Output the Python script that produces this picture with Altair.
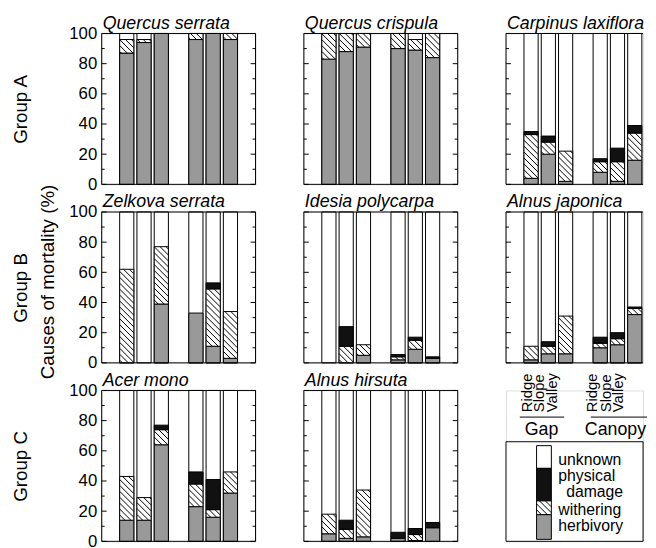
import math
import altair as alt
import pandas as pd

FONT = "Liberation Sans"

# ---------------- data ----------------
sites = ["Ridge", "Slope", "Valley", "Ridge", "Slope", "Valley"]
habitats = ["Gap", "Gap", "Gap", "Canopy", "Canopy", "Canopy"]
bar_slots = [1, 2, 3, 5, 6, 7]

species = ["Quercus serrata", "Quercus crispula", "Carpinus laxiflora",
           "Zelkova serrata", "Idesia polycarpa", "Alnus japonica",
           "Acer mono", "Alnus hirsuta"]
groups = ["Group A", "Group B", "Group C"]
y_title = "Causes of mortality  (%)"

herbivory = {
    "Quercus serrata":    [87, 94, 100, 96, 100, 96],
    "Quercus crispula":   [83, 88, 91, 90, 89, 84],
    "Carpinus laxiflora": [4, 20, 2, 8, 2, 16],
    "Zelkova serrata":    [0, 0, 39, 33, 11, 3],
    "Idesia polycarpa":   [0, 0, 5, 2, 9, 3],
    "Alnus japonica":     [2, 6, 6, 10, 12, 32],
    "Acer mono":          [14, 14, 64, 23, 16, 32],
    "Alnus hirsuta":      [5, 2, 3, 2, 0.5, 9],
}
withering = {
    "Quercus serrata":    [9, 2, 0, 4, 0, 4],
    "Quercus crispula":   [17, 12, 9, 10, 7, 16],
    "Carpinus laxiflora": [29, 8, 20, 7, 13, 18],
    "Zelkova serrata":    [62, 0, 38, 0, 38, 31],
    "Idesia polycarpa":   [0, 11, 7, 2, 6, 0],
    "Alnus japonica":     [9, 5, 25, 3, 4, 4],
    "Acer mono":          [29, 15, 10, 15, 5, 14],
    "Alnus hirsuta":      [13, 6, 31, 0, 4, 0],
}
physical = {
    "Quercus serrata":    [0, 0, 0, 0, 0, 0],
    "Quercus crispula":   [0, 0, 0, 0, 0, 0],
    "Carpinus laxiflora": [2, 4, 0, 2, 9, 5],
    "Zelkova serrata":    [0, 0, 0, 0, 4, 0],
    "Idesia polycarpa":   [0, 13, 0, 1.5, 2, 1],
    "Alnus japonica":     [0, 3, 0, 4, 4, 1],
    "Acer mono":          [0, 0, 3, 8, 20, 0],
    "Alnus hirsuta":      [0, 6, 0, 4, 4, 3.5],
}

causes = ["unknown", "physical damage", "withering", "herbivory"]
cause_fill = ["white", "#111111", "white", "#999999"]
legend_labels = ["unknown", "physical", "damage", "withering", "herbivory"]

major_ticks = [0, 20, 40, 60, 80, 100]
minor_ticks = [10, 30, 50, 70, 90]

# ---------------- layout constants ----------------
W, H = 156, 153
W3 = 139                      # right column is cut by the page edge
XMIN, XMAX = -0.45, 8.45
HALF = 0.41
SX = W / (XMAX - XMIN)
STEP = 6.0

ys = alt.Scale(domain=[0, 100], nice=False)
cscale = alt.Scale(domain=causes, range=cause_fill)


def hatch_px(x0, x1, yt, yb, step=STEP):
    """diagonal '\\' hatch lines inside a pixel rectangle"""
    segs = []
    cmin, cmax = yt - x1, yb - x0
    k = math.ceil(cmin / step)
    while k * step < cmax:
        c = k * step
        xa = max(x0, yt - c)
        xb = min(x1, yb - c)
        if xb - xa > 0.4:
            segs.append((xa, xa + c, xb, xb + c))
        k += 1
    return segs


def to_px_x(d):
    return (d - XMIN) * SX


def to_px_y(v):
    return (100 - v) / 100 * H


def from_px_x(p):
    return p / SX + XMIN


def from_px_y(p):
    return 100 - p * 100 / H


one = pd.DataFrame({"a": [0]})


def panel(name, first_col, gtitle, width=W, open_right=False):
    xs = alt.Scale(domain=[XMIN, XMIN + width / SX], nice=False, zero=False)
    bg = pd.DataFrame({"x0": [s - HALF for s in bar_slots],
                       "x1": [s + HALF for s in bar_slots],
                       "y0": [0] * 6, "y1": [100] * 6})
    seg_rows, hatch_rows = [], []
    for i, s in enumerate(bar_slots):
        h, w, p = herbivory[name][i], withering[name][i], physical[name][i]
        base = 0
        for cause, val in [("herbivory", h), ("withering", w), ("physical damage", p)]:
            if val > 0:
                seg_rows.append({"x0": s - HALF, "x1": s + HALF, "y0": base,
                                 "y1": base + val, "cause": cause})
                if cause == "withering":
                    for (ax, ay, bx, by) in hatch_px(to_px_x(s - HALF), to_px_x(s + HALF),
                                                     to_px_y(base + val), to_px_y(base)):
                        hatch_rows.append({"hx0": from_px_x(ax), "hy0": from_px_y(ay),
                                           "hx1": from_px_x(bx), "hy1": from_px_y(by)})
            base += val
    segs = pd.DataFrame(seg_rows)
    hatch = pd.DataFrame(hatch_rows if hatch_rows else
                         [{"hx0": 0, "hy0": 0, "hx1": 0, "hy1": 0}])

    if first_col:
        yaxis = alt.Axis(values=major_ticks, ticks=False, domain=False, grid=False,
                         labelFontSize=17, labelFont=FONT, labelColor="black",
                         labelPadding=5, title=gtitle, titleX=-91, titleY=H / 2,
                         titleAngle=270, titleAlign="center", titleBaseline="top",
                         titleFontSize=19, titleFont=FONT, titleFontWeight="normal",
                         titleColor="black")
    else:
        yaxis = None

    def Y(field):
        return alt.Y(field, scale=ys, axis=yaxis)

    maj = pd.DataFrame({"v": major_ticks})
    mnr = pd.DataFrame({"v": minor_ticks})
    ticks = []
    for df, ln in [(maj, 5), (mnr, 3)]:
        ticks.append(alt.Chart(df).mark_rule(color="black", strokeWidth=1).encode(
            y=Y("v:Q"), x=alt.value(0), x2=alt.value(ln)))
        if not open_right:
            ticks.append(alt.Chart(df).mark_rule(color="black", strokeWidth=1).encode(
                y=Y("v:Q"), x=alt.value(width), x2=alt.value(width - ln)))

    if open_right:
        frame = [
            alt.Chart(one).mark_rule(color="black", strokeWidth=1).encode(
                x=alt.value(0), x2=alt.value(width), y=alt.value(0)),
            alt.Chart(one).mark_rule(color="black", strokeWidth=1).encode(
                x=alt.value(0), x2=alt.value(width), y=alt.value(H)),
            alt.Chart(one).mark_rule(color="black", strokeWidth=1).encode(
                x=alt.value(0), y=alt.value(0), y2=alt.value(H)),
        ]
    else:
        frame = [
            alt.Chart(one).mark_rect(fillOpacity=0, stroke="black", strokeWidth=1).encode(
                x=alt.value(0), x2=alt.value(width), y=alt.value(0), y2=alt.value(H)),
        ]

    layers = [
        alt.Chart(bg).mark_rect(fill="white", stroke="black", strokeWidth=1).encode(
            x=alt.X("x0:Q", scale=xs, axis=None), x2="x1",
            y=Y("y0:Q"), y2="y1"),
        alt.Chart(segs).mark_rect(stroke="black", strokeWidth=1).encode(
            x=alt.X("x0:Q", scale=xs, axis=None), x2="x1",
            y=Y("y0:Q"), y2="y1",
            fill=alt.Fill("cause:N", scale=cscale, legend=None)),
        alt.Chart(hatch).mark_rule(color="black", strokeWidth=1).encode(
            x=alt.X("hx0:Q", scale=xs, axis=None), x2="hx1",
            y=Y("hy0:Q"), y2="hy1"),
    ] + ticks + frame + [
        alt.Chart(pd.DataFrame({"t": [name]})).mark_text(
            align="left", baseline="alphabetic", fontStyle="italic", fontSize=18,
            font=FONT, color="black", dx=1).encode(
            x=alt.value(0), y=alt.value(-5), text="t:N"),
    ]
    return alt.layer(*layers).properties(width=width, height=H)


def legend_cell(width=W3):
    lx = alt.Scale(domain=[0, width], range=[0, width], nice=False, zero=False)
    ly = alt.Scale(domain=[0, H], range=[0, H], nice=False, zero=False)
    site_lab = pd.DataFrame({"x": [21, 34, 47, 87, 101, 114], "label": sites})
    glines = pd.DataFrame({"x0": [14, 86], "x1": [59, 143]})
    glab = pd.DataFrame({"x": [36, 111], "label": ["Gap", "Canopy"]})
    lseg = pd.DataFrame({"x0": [31] * 4, "x1": [46] * 4,
                         "y0": [56, 79, 112, 126], "y1": [79, 112, 126, 151],
                         "cause": causes})
    hrows = [{"hx0": a, "hy0": b, "hx1": c, "hy1": d}
             for (a, b, c, d) in hatch_px(31, 46, 112, 126)]
    lh = pd.DataFrame(hrows)
    ltext = pd.DataFrame({"x": [53, 53, 61, 53, 53],
                          "y": [71, 87, 103, 121, 138],
                          "label": legend_labels})
    layers = [
        alt.Chart(site_lab).mark_text(angle=270, align="left", baseline="middle",
                                      fontSize=15, font=FONT, color="black").encode(
            x=alt.X("x:Q", scale=lx, axis=None), y=alt.value(22), text="label:N"),
        alt.Chart(glines).mark_rule(color="black", strokeWidth=1).encode(
            x=alt.X("x0:Q", scale=lx, axis=None), x2="x1", y=alt.value(27)),
        alt.Chart(glab).mark_text(align="center", baseline="middle", fontSize=18,
                                  font=FONT, color="black").encode(
            x=alt.X("x:Q", scale=lx, axis=None), y=alt.value(40), text="label:N"),
        alt.Chart(one).mark_rect(fill="white", stroke="black", strokeWidth=1).encode(
            x=alt.value(0), x2=alt.value(width), y=alt.value(52), y2=alt.value(H)),
        alt.Chart(lseg).mark_rect(stroke="black", strokeWidth=1).encode(
            x=alt.X("x0:Q", scale=lx, axis=None), x2="x1",
            y=alt.Y("y0:Q", scale=ly, axis=None), y2="y1",
            fill=alt.Fill("cause:N", scale=cscale, legend=None)),
        alt.Chart(lh).mark_rule(color="black", strokeWidth=1).encode(
            x=alt.X("hx0:Q", scale=lx, axis=None), x2="hx1",
            y=alt.Y("hy0:Q", scale=ly, axis=None), y2="hy1"),
        alt.Chart(ltext).mark_text(align="left", baseline="middle", fontSize=16,
                                   font=FONT, color="black").encode(
            x=alt.X("x:Q", scale=lx, axis=None),
            y=alt.Y("y:Q", scale=ly, axis=None), text="label:N"),
    ]
    return alt.layer(*layers).properties(width=width, height=H)


rowA = alt.hconcat(panel(species[0], True, groups[0]),
                   panel(species[1], False, ""),
                   panel(species[2], False, "", W3, True), spacing=47)
rowB = alt.hconcat(panel(species[3], True, groups[1]),
                   panel(species[4], False, ""),
                   panel(species[5], False, "", W3, True), spacing=47)
rowC = alt.hconcat(panel(species[6], True, groups[2]),
                   panel(species[7], False, ""),
                   legend_cell(), spacing=47)

chart = alt.vconcat(rowA, rowB, rowC, spacing=-1).properties(
    padding={"left": 3, "top": 2, "right": 0, "bottom": 0},
    title=alt.TitleParams(y_title, orient="left", anchor="middle", offset=-47,
                          fontSize=19, font=FONT, fontWeight="normal", color="black")
).configure_view(strokeOpacity=0).configure(font=FONT, background="white")

chart.save("out.html", embed_options={"renderer": "svg", "actions": False})
